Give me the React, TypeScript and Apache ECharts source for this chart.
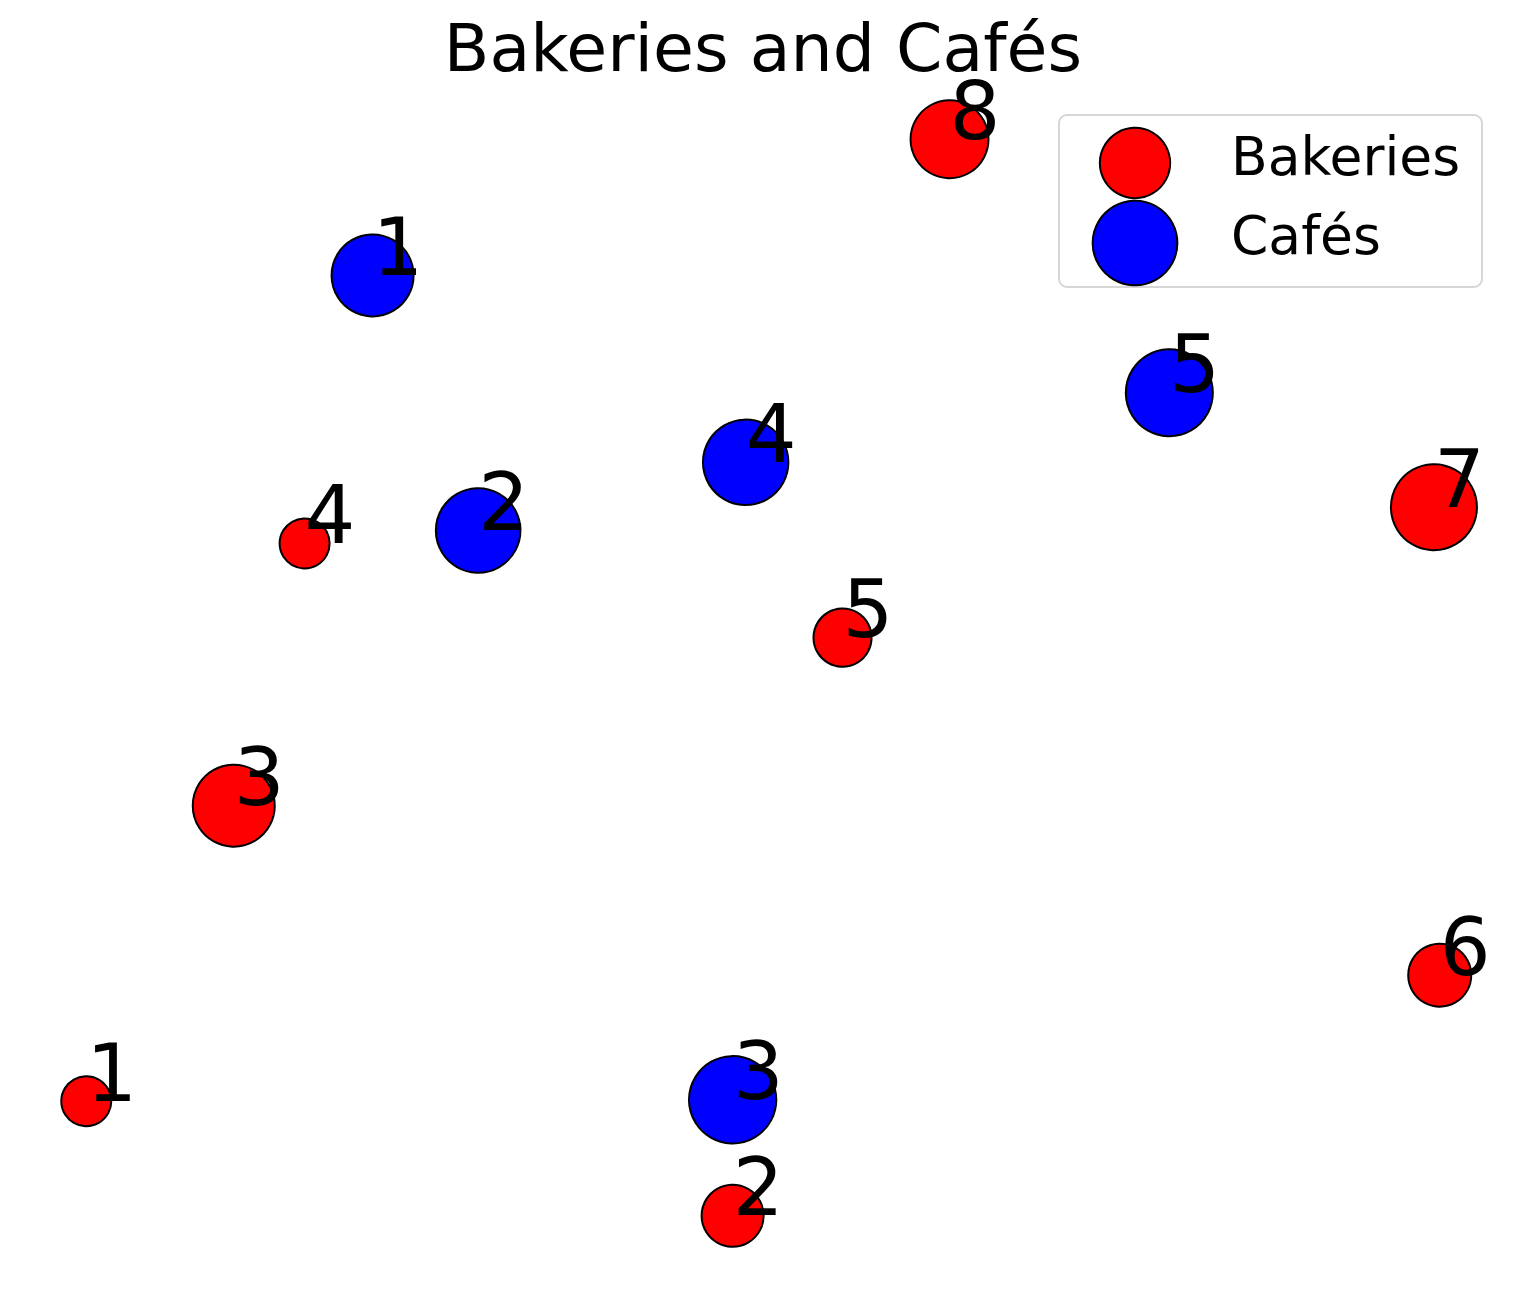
import { useEffect, useRef } from "react";
import * as echarts from "echarts";

// positions on an arbitrary 10 x 8 map, bubble size = popularity
const bakeryX = [0.32, 4.79, 1.34, 1.83, 5.55, 9.68, 9.64, 6.29];
const bakeryY = [1.02, 0.23, 3.06, 4.87, 4.22, 1.89, 5.12, 7.66];
const bakerySize = [100, 154, 269, 100, 135, 159, 296, 243];

const cafeX = [2.3, 3.03, 4.79, 4.88, 7.81];
const cafeY = [6.72, 4.96, 1.03, 5.43, 5.91];
const cafeSize = [269, 286, 305, 292, 303];

const seriesNames = ["Bakeries", "Cafés"];
const seriesColors = ["#ff0000", "#0000ff"];

const FONT = "DejaVu Sans";
const diameter = (s: number) => Math.sqrt(s) * 5;
// matplotlib legend uses the mean of min and max sizes
const legendDiameter = (sizes: number[]) =>
  diameter((Math.max(...sizes) + Math.min(...sizes)) / 2);

const App: React.FC = () => {
  const chartRef = useRef<HTMLDivElement>(null);

  useEffect(() => {
    if (!chartRef.current) return;
    const chart = echarts.init(chartRef.current, null, { renderer: "svg" });

    const sets = [
      { x: bakeryX, y: bakeryY, s: bakerySize },
      { x: cafeX, y: cafeY, s: cafeSize },
    ];

    const series = sets.map((set, i) => ({
      name: seriesNames[i],
      type: "scatter",
      data: set.x.map((x, j) => [x, set.y[j], set.s[j]]),
      symbol: "circle",
      symbolSize: (v: number[]) => diameter(v[2]),
      itemStyle: {
        color: seriesColors[i],
        borderColor: "#000",
        borderWidth: 2,
        opacity: 1,
      },
      label: {
        show: true,
        formatter: (p: any) => String(p.dataIndex + 1),
        position: ["50%", "50%"],
        align: "left",
        verticalAlign: "middle",
        offset: [0, -28],
        fontSize: 80,
        fontFamily: FONT,
        color: "#000",
      },
      emphasis: { disabled: true },
    }));

    const legendCenterX = 1134;
    const legendRowsY = [162, 242];
    const textLeft = 1230;
    const legends = sets.map((set, i) => {
      const d = legendDiameter(set.s);
      return {
        data: [seriesNames[i]],
        selectedMode: false,
        orient: "vertical",
        left: legendCenterX - d / 2,
        top: legendRowsY[i] - d / 2,
        padding: 0,
        itemWidth: d,
        itemHeight: d,
        icon: "circle",
        itemStyle: { borderColor: "#000", borderWidth: 2 },
        // an empty short second line lifts the name a little, as matplotlib does
        formatter: (name: string) => `{t|${name}}\n{g| }`,
        textStyle: {
          color: "#000",
          padding: [0, 0, 0, textLeft - (legendCenterX - d / 2 + d + 5)],
          rich: {
            t: { fontSize: 53.5, fontFamily: FONT, color: "#000", lineHeight: 62 },
            g: { fontSize: 1, lineHeight: 14 },
          },
        },
        z: 5,
      };
    });

    chart.setOption({
      animation: false,
      backgroundColor: "#fff",
      title: {
        text: "Bakeries and Cafés",
        left: "center",
        top: 14,
        padding: 0,
        textStyle: {
          fontSize: 66.5,
          fontWeight: "normal",
          fontFamily: FONT,
          color: "#000",
        },
      },
      grid: { left: 40, right: 40, top: 90, bottom: 40 },
      xAxis: { type: "value", min: 0, max: 10, show: false },
      yAxis: { type: "value", min: 0, max: 8, show: false },
      legend: legends,
      graphic: [
        {
          type: "rect",
          z: 4,
          shape: { x: 1059, y: 115, width: 423, height: 172, r: 8 },
          style: {
            fill: "rgba(255,255,255,0.8)",
            stroke: "#d6d6d6",
            lineWidth: 2,
          },
        },
      ],
      series,
    });

    return () => {
      chart.dispose();
    };
  }, []);

  return (
    <div
      ref={chartRef}
      style={{ position: "absolute", left: 0, top: 0, width: "1526px", height: "1289px" }}
    />
  );
};

export default App;
